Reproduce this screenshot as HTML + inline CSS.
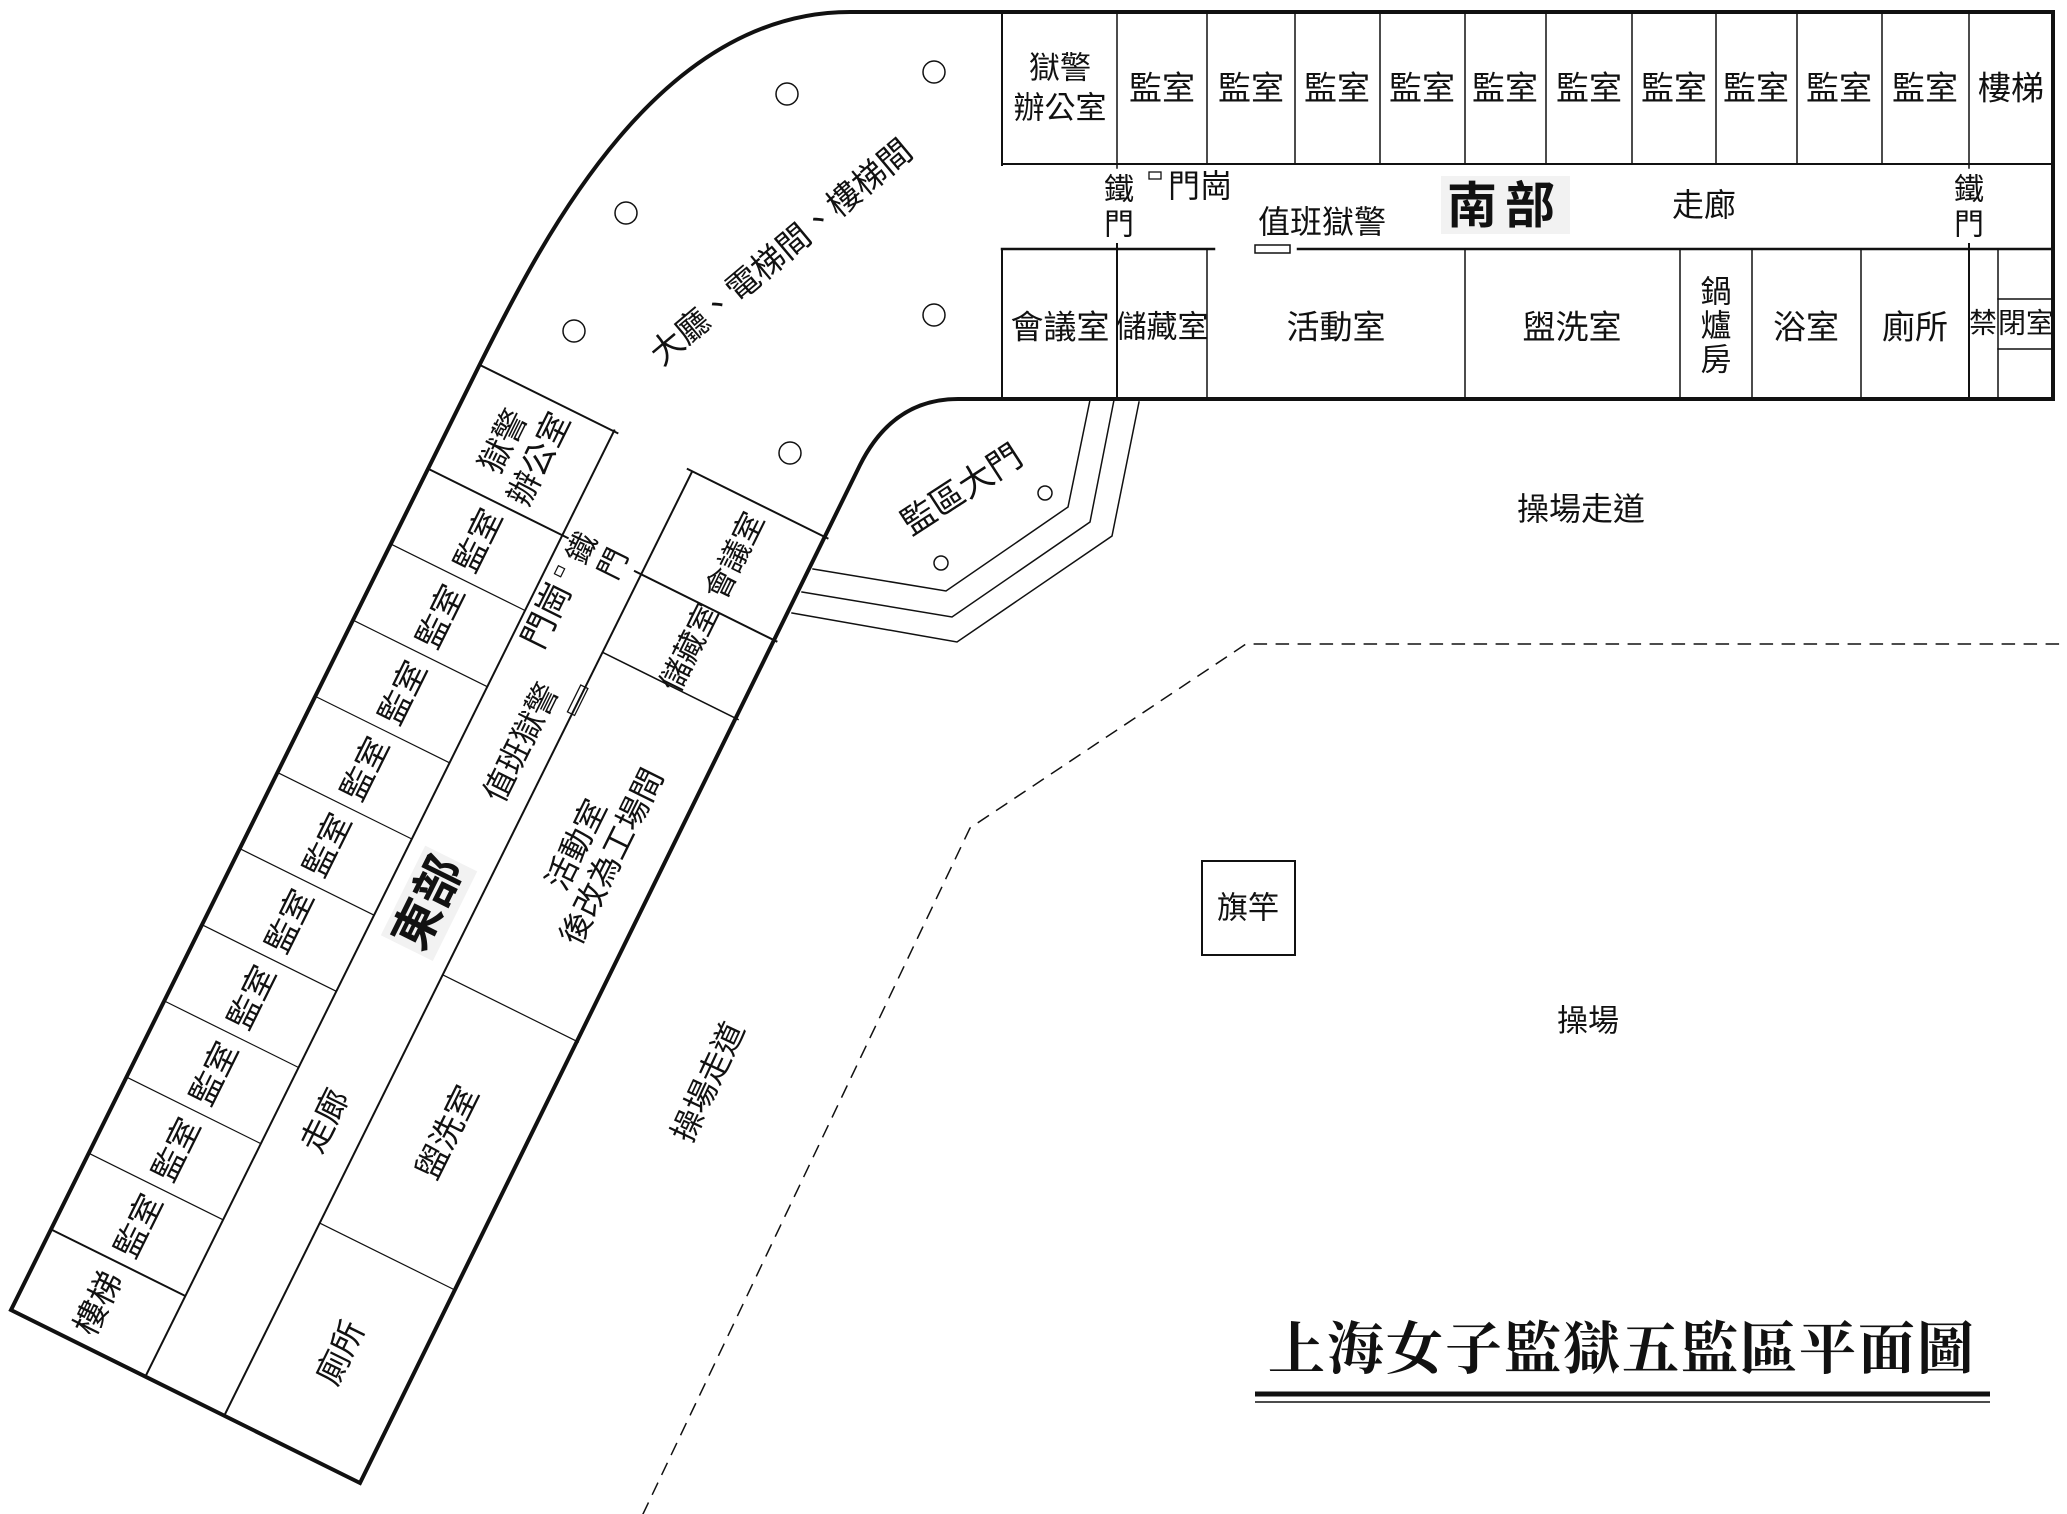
<!DOCTYPE html>
<html><head><meta charset="utf-8"><style>
html,body{margin:0;padding:0;background:#fff;}
svg{display:block;}
text{font-family:"Liberation Sans","Noto Sans CJK TC",sans-serif;fill:#111;}
</style></head><body>
<svg width="2067" height="1514" viewBox="0 0 2067 1514" xmlns="http://www.w3.org/2000/svg">
<rect width="2067" height="1514" fill="#fff"/>
<g fill="none" stroke="#111" stroke-linecap="square">
  <path d="M2053,12 L850,12 C660,12 547,230 480,364 L11,1310 L360,1483 L860,465 Q893,399 958,399 L2053,399 Z" stroke-width="4"/>
  <line x1="1002" y1="12" x2="1002" y2="165" stroke-width="2"/>
  <line x1="1002" y1="250" x2="1002" y2="399" stroke-width="2"/>
  <line x1="1002" y1="164" x2="2053" y2="164" stroke-width="2"/>
  <line x1="1002" y1="249" x2="1214" y2="249" stroke-width="2.5"/>
  <line x1="1298" y1="249" x2="2053" y2="249" stroke-width="2.5"/>
  <rect x="1255" y="245" width="35" height="8" stroke-width="1.5"/>
  <rect x="1149" y="172" width="12" height="7" stroke-width="1.3"/>
  <g stroke-width="1.5">
    <line x1="1117" y1="12" x2="1117" y2="168"/><line x1="1207" y1="12" x2="1207" y2="164"/>
    <line x1="1295" y1="12" x2="1295" y2="164"/><line x1="1380" y1="12" x2="1380" y2="164"/>
    <line x1="1465" y1="12" x2="1465" y2="164"/><line x1="1546" y1="12" x2="1546" y2="164"/>
    <line x1="1632" y1="12" x2="1632" y2="164"/><line x1="1716" y1="12" x2="1716" y2="164"/>
    <line x1="1797" y1="12" x2="1797" y2="164"/><line x1="1882" y1="12" x2="1882" y2="164"/>
    <line x1="1969" y1="12" x2="1969" y2="168"/>
    <line x1="1117" y1="244" x2="1117" y2="399" stroke-width="2"/><line x1="1207" y1="249" x2="1207" y2="399"/>
    <line x1="1465" y1="249" x2="1465" y2="399"/><line x1="1680" y1="249" x2="1680" y2="399"/>
    <line x1="1752" y1="249" x2="1752" y2="399"/><line x1="1861" y1="249" x2="1861" y2="399"/>
    <line x1="1969" y1="244" x2="1969" y2="399" stroke-width="2"/><line x1="1998" y1="249" x2="1998" y2="399"/>
    <line x1="1998" y1="299" x2="2053" y2="299"/><line x1="1998" y1="349" x2="2053" y2="349"/>
  </g>
  <g stroke-width="1.5">
    <polyline points="1090,400 1068,507 946,591 813,569"/>
    <polyline points="1114,400 1090,522 952,617 802,592"/>
    <polyline points="1139,402 1112,536 957,642 792,613"/>
  </g>
  <g stroke-width="1.5">
    <circle cx="934" cy="72" r="11"/><circle cx="787" cy="94" r="11"/><circle cx="626" cy="213" r="11"/>
    <circle cx="574" cy="331" r="11"/><circle cx="934" cy="315" r="11"/><circle cx="790" cy="453" r="11"/>
    <circle cx="1045" cy="493" r="7"/><circle cx="941" cy="563" r="7"/>
  </g>
  <rect x="1202" y="861" width="93" height="94" stroke-width="2"/>
  <polyline points="643,1514 970,828 1246,644 2067,644" stroke-width="1.5" stroke-dasharray="12,10"/>
  <line x1="1255" y1="1394" x2="1990" y2="1394" stroke-width="5" stroke-linecap="butt"/>
  <line x1="1255" y1="1402" x2="1990" y2="1402" stroke-width="1.5" stroke-linecap="butt"/>
</g>
<g transform="matrix(0.444,-0.896,0.896,0.444,11,1310)">
  <g fill="none" stroke="#111">
    <line x1="0" y1="150" x2="1057" y2="150" stroke-width="2"/>
    <line x1="0" y1="238" x2="1054" y2="238" stroke-width="2"/>
    <line x1="90" y1="0" x2="90" y2="150" stroke-width="2"/>
    <line x1="1055" y1="0" x2="1055" y2="155" stroke-width="2"/>
    <line x1="939" y1="0" x2="939" y2="157" stroke-width="2"/>
    <line x1="939" y1="230" x2="939" y2="390" stroke-width="2"/>
    <line x1="852" y1="238" x2="852" y2="390" stroke-width="1.5"/>
    <line x1="1054" y1="232" x2="1054" y2="390" stroke-width="2"/>
    <g stroke-width="1.2">
      <line x1="175" y1="0" x2="175" y2="150"/><line x1="260" y1="0" x2="260" y2="150"/>
      <line x1="345" y1="0" x2="345" y2="150"/><line x1="430" y1="0" x2="430" y2="150"/>
      <line x1="515" y1="0" x2="515" y2="150"/><line x1="600" y1="0" x2="600" y2="150"/>
      <line x1="685" y1="0" x2="685" y2="150"/><line x1="770" y1="0" x2="770" y2="150"/>
      <line x1="855" y1="0" x2="855" y2="150"/>
      <line x1="215" y1="238" x2="215" y2="390"/><line x1="492" y1="238" x2="492" y2="390"/>
    </g>
    <rect x="783" y="233" width="30" height="8" stroke-width="1.3"/>
    <rect x="901" y="160" width="9" height="7" stroke-width="1.2"/>
  </g>
  <g font-size="33" text-anchor="middle" dominant-baseline="central">
    <text x="45" y="75">樓梯</text>
    <text x="132" y="77">監室</text><text x="217" y="77">監室</text><text x="302" y="77">監室</text>
    <text x="387" y="77">監室</text><text x="472" y="77">監室</text><text x="557" y="77">監室</text>
    <text x="642" y="77">監室</text><text x="727" y="77">監室</text><text x="812" y="77">監室</text>
    <text x="897" y="77">監室</text>
    <text x="997" y="55">獄警</text><text x="997" y="95">辦公室</text>
    <text x="309" y="197">走廊</text>
    <rect x="500" y="165" width="100" height="58" fill="#f2f2f2"/>
    <text x="550" y="194" font-weight="bold" font-size="48">東部</text>
    <text x="735" y="205" font-size="32">值班獄警</text>
    <text x="860" y="172" font-size="34">門崗</text>
    <text x="936" y="174" font-size="30">鐵</text><text x="936" y="209" font-size="30">門</text>
    <text x="668" y="300" font-size="32">活動室</text>
    <text x="673" y="337" font-size="32">後改為工場間</text>
    <text x="353" y="312">盥洗室</text>
    <text x="108" y="314">廁所</text>
    <text x="895" y="314" font-size="31">儲藏室</text>
    <text x="997" y="314" font-size="31">會議室</text>
  </g>
</g>
<g font-size="33" text-anchor="middle" dominant-baseline="central">
  <text x="1060" y="68" font-size="31">獄警</text><text x="1060" y="108" font-size="31">辦公室</text>
  <text x="1162" y="88">監室</text><text x="1251" y="88">監室</text><text x="1337" y="88">監室</text>
  <text x="1422" y="88">監室</text><text x="1505" y="88">監室</text><text x="1589" y="88">監室</text>
  <text x="1674" y="88">監室</text><text x="1756" y="88">監室</text><text x="1839" y="88">監室</text>
  <text x="1925" y="88">監室</text><text x="2011" y="88">樓梯</text>
  <text x="1119" y="190" font-size="30">鐵</text><text x="1119" y="225" font-size="30">門</text>
  <text x="1969" y="190" font-size="30">鐵</text><text x="1969" y="225" font-size="30">門</text>
  <text x="1200" y="186" font-size="32">門崗</text>
  <text x="1322" y="222" font-size="32">值班獄警</text>
  <rect x="1441" y="176" width="129" height="58" fill="#f2f2f2"/>
  <text x="1505" y="206" font-size="50" font-weight="bold" letter-spacing="8">南部</text>
  <text x="1704" y="205" font-size="32">走廊</text>
  <text x="1060" y="327">會議室</text><text x="1162" y="327" font-size="31">儲藏室</text>
  <text x="1336" y="327">活動室</text><text x="1572" y="327">盥洗室</text>
  <text x="1716" y="292" font-size="31">鍋</text><text x="1716" y="326" font-size="31">爐</text><text x="1716" y="360" font-size="31">房</text>
  <text x="1806" y="327">浴室</text><text x="1915" y="327">廁所</text>
  <text x="1983" y="323" font-size="28">禁</text><text x="2026" y="323" font-size="28">閉室</text>
  <text transform="translate(781,252) rotate(-40)" font-size="33">大廳、電梯間、樓梯間</text>
  <text transform="translate(962,490) rotate(-33)" font-size="34">監區大門</text>
  <text x="1581" y="509" font-size="32">操場走道</text>
  <text transform="translate(708,1082) rotate(-65)" font-size="32">操場走道</text>
  <text x="1248" y="908" font-size="31">旗竿</text>
  <text x="1588" y="1021" font-size="31">操場</text>
  <text x="1622" y="1350" font-size="57" font-weight="bold" letter-spacing="2" style="font-family:'Liberation Serif','Noto Serif CJK SC',serif">上海女子監獄五監區平面圖</text>
</g>
</svg>
</body></html>
